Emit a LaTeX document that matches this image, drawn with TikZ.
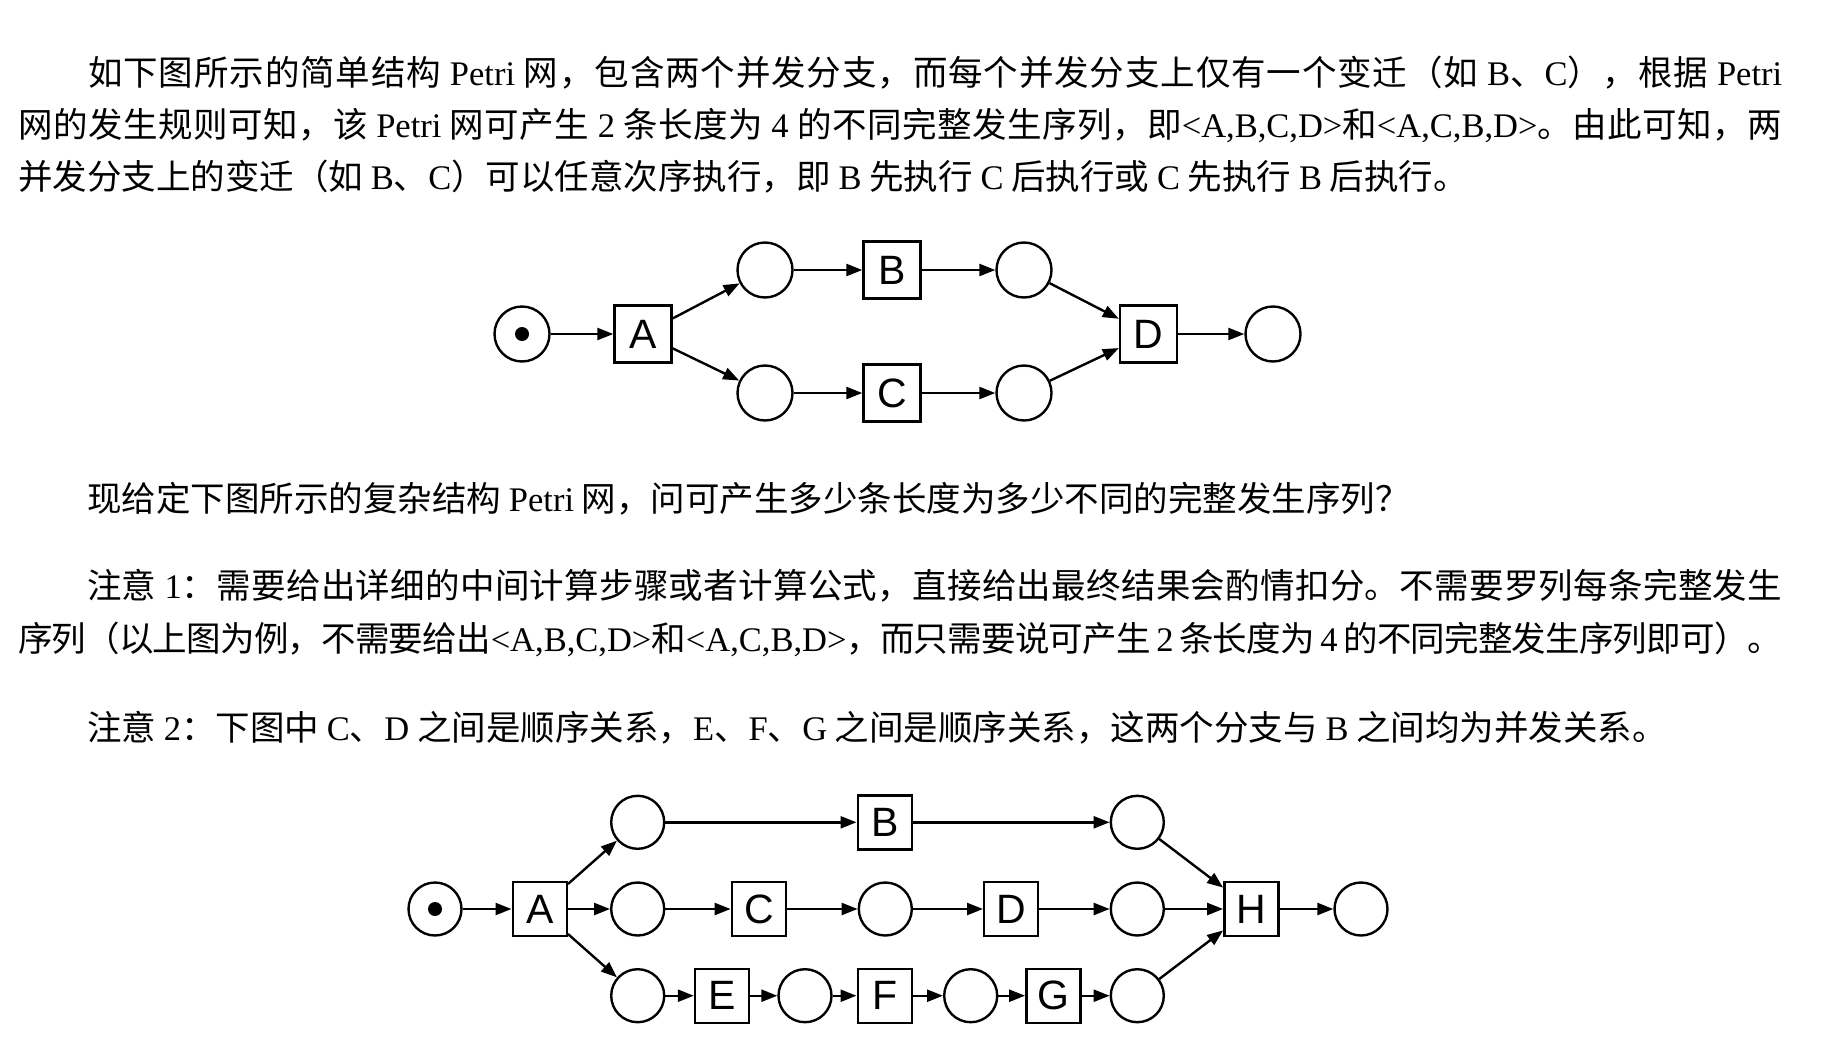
\documentclass[tikz,border=0pt]{standalone}
\usepackage{fontspec}
\setmainfont{Liberation Serif}
\newfontfamily\cjkfont{Noto Sans CJK SC}
\newfontfamily\tnrfont{Liberation Serif}
\newfontfamily\arialfont{Liberation Sans}
\usetikzlibrary{arrows.meta}

\newcommand\tnr[1]{{\tnrfont #1}}
% glue between CJK characters, so that the lines can be justified
\newcommand\cjkglue{\hskip 0pt plus 3pt minus 1pt}
\chardef\cjkclass=9
\newcount\cjkcode
\newcommand\cjkrange[2]{%
  \cjkcode=#1
  \loop \XeTeXcharclass\cjkcode=\cjkclass \advance\cjkcode by 1
  \ifnum\cjkcode<#2 \repeat}
\cjkrange{"3000}{"3040}
\cjkrange{"4E00}{"A000}
\cjkrange{"FF00}{"FF60}
\XeTeXinterchartoks\cjkclass\cjkclass = {\cjkglue}
\newcommand\bodyfont{\XeTeXinterchartokenstate=1 \cjkfont\fontsize{34.5}{40}\selectfont}

\begin{document}
\begin{tikzpicture}[x=1pt, y=-1pt, line width=2.4pt,
    >={Triangle[length=16pt, width=12pt]},
    textline/.style={anchor=base west, inner sep=0pt, font=\bodyfont},
    place/.style={circle, draw, minimum size=#1, inner sep=0pt},
    place/.default=55pt,
    marked/.style={place=#1, path picture={\fill (path picture bounding box.center) circle (7pt);}},
    marked/.default=55pt,
    trans/.style={draw, minimum size=#1, inner sep=0pt, font=\arialfont\fontsize{41}{41}\selectfont},
    trans/.default=57pt]
\useasboundingbox (0, 0) rectangle (1835, 1049);

\node (line1) at (87, 85) [textline] {\makebox[1694pt][s]{如下图所示的简单结构 \tnr{Petri} 网，包含两个并发分支，而每个并发分支上仅有一个变迁（如 \tnr{B}、\tnr{C}），根据 \tnr{Petri}}};
\node (line2) at (17, 137) [textline] {\makebox[1764pt][s]{网的发生规则可知，该 \tnr{Petri} 网可产生 \tnr{2} 条长度为 \tnr{4} 的不同完整发生序列，即\tnr{<A,B,C,D>}和\tnr{<A,C,B,D>}。由此可知，两}};
\node (line3) at (17, 189) [textline] {并发分支上的变迁（如 \tnr{B}、\tnr{C}）可以任意次序执行，即 \tnr{B} 先执行 \tnr{C} 后执行或 \tnr{C} 先执行 \tnr{B} 后执行。};

% simple net
\node (p0) at (522, 334) [marked] {};
\node (A) at (643, 334) [trans] {A};
\node (p1) at (765, 270) [place] {};
\node (B) at (892, 270) [trans] {B};
\node (p2) at (1024, 270) [place] {};
\node (p3) at (765, 393) [place] {};
\node (C) at (892, 393) [trans] {C};
\node (p4) at (1024, 393) [place] {};
\node (D) at (1148.5, 334) [trans] {D};
\node (p5) at (1273, 334) [place] {};

\draw[->] (p0) -- (A);
\draw[->] (A) -- (p1);
\draw[->] (A) -- (p3);
\draw[->] (p1) -- (B);
\draw[->] (B) -- (p2);
\draw[->] (p3) -- (C);
\draw[->] (C) -- (p4);
\draw[->] (p2) -- (D);
\draw[->] (p4) -- (D);
\draw[->] (D) -- (p5);

\node (ask) at (86, 511) [textline] {现给定下图所示的复杂结构 \tnr{Petri} 网，问可产生多少条长度为多少不同的完整发生序列？};
\node (note1a) at (86, 598) [textline] {\makebox[1695pt][s]{注意 \tnr{1}：需要给出详细的中间计算步骤或者计算公式，直接给出最终结果会酌情扣分。不需要罗列每条完整发生}};
\node (note1b) at (17, 651) [textline] {\makebox[1764pt][s]{序列（以上图为例，不需要给出\tnr{<A,B,C,D>}和\tnr{<A,C,B,D>}，而只需要说可产生 \tnr{2} 条长度为 \tnr{4} 的不同完整发生序列即可）。}};
\node (note2) at (86, 740) [textline] {注意 \tnr{2}：下图中 \tnr{C}、\tnr{D} 之间是顺序关系，\tnr{E}、\tnr{F}、\tnr{G} 之间是顺序关系，这两个分支与 \tnr{B} 之间均为并发关系。};

% complex net
\node (q0) at (435, 909) [marked=53pt] {};
\node (a) at (539.7, 909) [trans=54pt] {A};
\node (q1) at (637.7, 822.3) [place=53pt] {};
\node (q2) at (637.7, 909) [place=53pt] {};
\node (q3) at (637.7, 995.7) [place=53pt] {};
\node (b) at (884.7, 822.3) [trans=54pt] {B};
\node (c) at (758.8, 909) [trans=54pt] {C};
\node (q4) at (885.3, 909) [place=53pt] {};
\node (d) at (1011.2, 909) [trans=54pt] {D};
\node (e) at (722, 995.7) [trans=54pt] {E};
\node (q5) at (805, 995.7) [place=53pt] {};
\node (f) at (884.7, 995.7) [trans=54pt] {F};
\node (q6) at (970.7, 995.7) [place=53pt] {};
\node (g) at (1053.3, 995.7) [trans=54pt] {G};
\node (q7) at (1137.3, 822.3) [place=53pt] {};
\node (q8) at (1137.3, 909) [place=53pt] {};
\node (q9) at (1137.3, 995.7) [place=53pt] {};
\node (h) at (1251.3, 909) [trans=54pt] {H};
\node (q10) at (1361, 909) [place=53pt] {};

\draw[->] (q0) -- (a);
\draw[->] (a) -- (q1);
\draw[->] (a) -- (q2);
\draw[->] (a) -- (q3);
\draw[->] (q1) -- (b);
\draw[->] (b) -- (q7);
\draw[->] (q2) -- (c);
\draw[->] (c) -- (q4);
\draw[->] (q4) -- (d);
\draw[->] (d) -- (q8);
\draw[->] (q3) -- (e);
\draw[->] (e) -- (q5);
\draw[->] (q5) -- (f);
\draw[->] (f) -- (q6);
\draw[->] (q6) -- (g);
\draw[->] (g) -- (q9);
\draw[->] (q7) -- (h);
\draw[->] (q8) -- (h);
\draw[->] (q9) -- (h);
\draw[->] (h) -- (q10);
\end{tikzpicture}
\end{document}
